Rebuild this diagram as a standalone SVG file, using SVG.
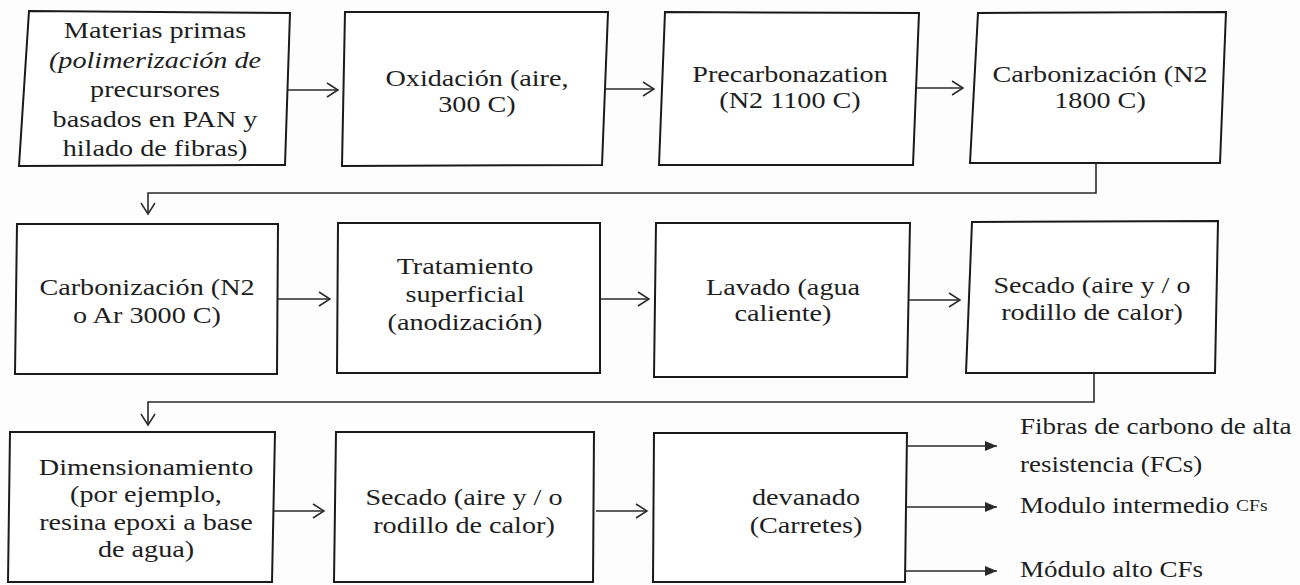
<svg xmlns="http://www.w3.org/2000/svg" width="1300" height="585" viewBox="0 0 1300 585">
<defs>
<style>
.box{fill:#fff;stroke:#1a1a1a;stroke-width:2}
.t{font-family:"Liberation Serif","Times New Roman",serif;font-size:23.5px;fill:#1e1e1e;text-anchor:middle}
.l{font-family:"Liberation Serif","Times New Roman",serif;font-size:23.5px;fill:#1e1e1e;text-anchor:start}
.c{fill:none;stroke:#2a2a2a;stroke-width:1.6}
</style>
<marker id="open" markerWidth="14" markerHeight="18" refX="12" refY="8" orient="auto" markerUnits="userSpaceOnUse">
<path d="M1,1 L12,8 L1,15" fill="none" stroke="#2a2a2a" stroke-width="1.5"/>
</marker>
<marker id="fill" markerWidth="14" markerHeight="12" refX="12" refY="5" orient="auto" markerUnits="userSpaceOnUse">
<path d="M0,0 L12,5 L0,10 z" fill="#2a2a2a"/>
</marker>
</defs>
<rect width="1300" height="585" fill="#fdfdfd"/>

<g id="n1">
<polygon class="box" points="29,11 290,13 285,165 19,166"/>
<text class="t" transform="matrix(1.2 0 0 1 155 0)"><tspan x="0" y="38">Materias primas</tspan><tspan x="0" y="68" font-style="italic">(polimerización de</tspan><tspan x="0" y="97">precursores</tspan><tspan x="0" y="127">basados en PAN y</tspan><tspan x="0" y="156">hilado de fibras)</tspan></text>
</g>
<g id="n2">
<polygon class="box" points="345,12 608,12 602,165 342,166"/>
<text class="t" transform="matrix(1.2 0 0 1 477 0)"><tspan x="0" y="86">Oxidación (aire,</tspan><tspan x="0" y="112">300 C)</tspan></text>
</g>
<g id="n3">
<polygon class="box" points="665,12 919,13 913,165 659,165"/>
<text class="t" transform="matrix(1.2 0 0 1 790 0)"><tspan x="0" y="82">Precarbonazation</tspan><tspan x="0" y="108">(N2 1100 C)</tspan></text>
</g>
<g id="n4">
<polygon class="box" points="978,13 1226,12 1220,163 970,163"/>
<text class="t" transform="matrix(1.2 0 0 1 1100 0)"><tspan x="0" y="82">Carbonización (N2</tspan><tspan x="0" y="108">1800 C)</tspan></text>
</g>

<g id="n5">
<polygon class="box" points="17,224 278,224 277,374 15,374"/>
<text class="t" transform="matrix(1.2 0 0 1 147 0)"><tspan x="0" y="295">Carbonización (N2</tspan><tspan x="0" y="323">o Ar 3000 C)</tspan></text>
</g>
<g id="n6">
<polygon class="box" points="338,223 600,223 600,373 337,373"/>
<text class="t" transform="matrix(1.2 0 0 1 465 0)"><tspan x="0" y="274">Tratamiento</tspan><tspan x="0" y="302">superficial</tspan><tspan x="0" y="330">(anodización)</tspan></text>
</g>
<g id="n7">
<polygon class="box" points="656,223 910,223 907,377 654,377"/>
<text class="t" transform="matrix(1.2 0 0 1 783 0)"><tspan x="0" y="295">Lavado (agua</tspan><tspan x="0" y="321">caliente)</tspan></text>
</g>
<g id="n8">
<polygon class="box" points="972,222 1218,221 1215,373 966,373"/>
<text class="t" transform="matrix(1.2 0 0 1 1092 0)"><tspan x="0" y="293">Secado (aire y / o</tspan><tspan x="0" y="320">rodillo de calor)</tspan></text>
</g>

<g id="n9">
<polygon class="box" points="10,432 275,432 272,582 8,582"/>
<text class="t" transform="matrix(1.2 0 0 1 146 0)"><tspan x="0" y="475">Dimensionamiento</tspan><tspan x="0" y="502">(por ejemplo,</tspan><tspan x="0" y="530">resina epoxi a base</tspan><tspan x="0" y="557">de agua)</tspan></text>
</g>
<g id="n10">
<polygon class="box" points="336,432 594,432 593,582 334,582"/>
<text class="t" transform="matrix(1.2 0 0 1 464 0)"><tspan x="0" y="505">Secado (aire y / o</tspan><tspan x="0" y="533">rodillo de calor)</tspan></text>
</g>
<g id="n11">
<polygon class="box" points="654,433 907,433 905,582 653,582"/>
<text class="t" transform="matrix(1.2 0 0 1 806 0)"><tspan x="0" y="505">devanado</tspan><tspan x="0" y="533">(Carretes)</tspan></text>
</g>

<g id="outputs">
<text class="l" transform="matrix(1.15 0 0 1 1020 0)"><tspan x="0" y="434">Fibras de carbono de alta</tspan><tspan x="0" y="472">resistencia (FCs)</tspan></text>
<text class="l" transform="matrix(1.15 0 0 1 1020 0)"><tspan x="0" y="513">Modulo intermedio </tspan><tspan font-size="17" dy="-2">CFs</tspan></text>
<text class="l" transform="matrix(1.15 0 0 1 1020 0)"><tspan x="0" y="577">Módulo alto CFs</tspan></text>
</g>

<g id="connectors">
<path class="c" d="M287,90 H338" marker-end="url(#open)"/>
<path class="c" d="M604,89 H654" marker-end="url(#open)"/>
<path class="c" d="M916,88 H963" marker-end="url(#open)"/>
<path class="c" d="M1096,163 V193 H148 V214" marker-end="url(#open)"/>
<path class="c" d="M278,299 H330" marker-end="url(#open)"/>
<path class="c" d="M601,299 H649" marker-end="url(#open)"/>
<path class="c" d="M909,300 H960" marker-end="url(#open)"/>
<path class="c" d="M1094,373 V402 H148 V425" marker-end="url(#open)"/>
<path class="c" d="M274,511 H324" marker-end="url(#open)"/>
<path class="c" d="M596,511 H647" marker-end="url(#open)"/>
<path class="c" d="M906,446 H997" marker-end="url(#fill)"/>
<path class="c" d="M906,507 H997" marker-end="url(#fill)"/>
<path class="c" d="M906,571 H997" marker-end="url(#fill)"/>
</g>
</svg>
